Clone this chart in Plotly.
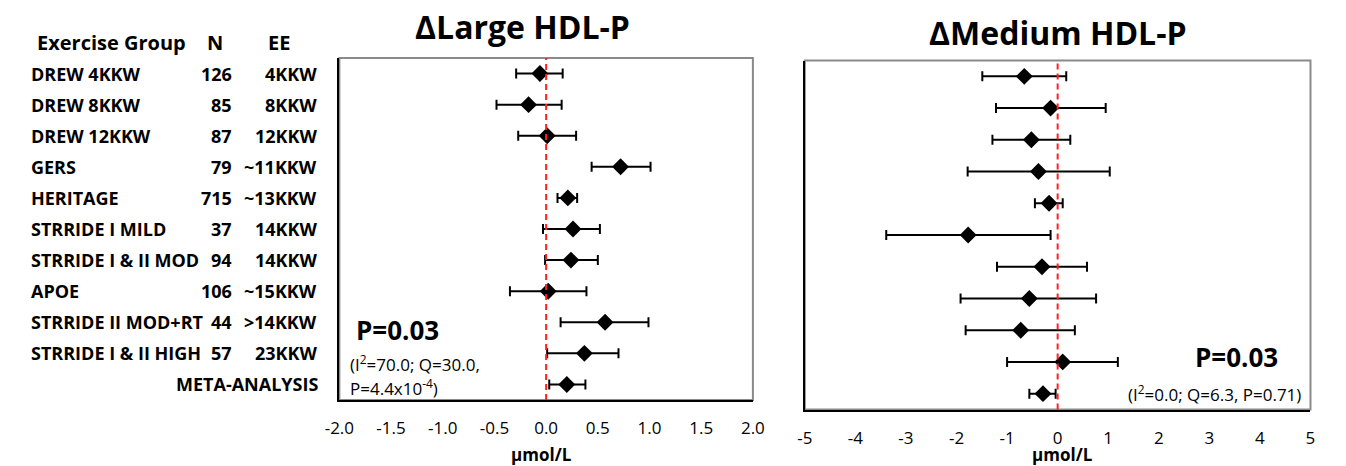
import plotly.graph_objects as go

# ---------------- data ----------------
groups = ["DREW 4KKW", "DREW 8KKW", "DREW 12KKW", "GERS", "HERITAGE",
          "STRRIDE I MILD", "STRRIDE I & II MOD", "APOE", "STRRIDE II MOD+RT",
          "STRRIDE I & II HIGH"]
meta_label = "META-ANALYSIS"
n_vals = [126, 85, 87, 79, 715, 37, 94, 106, 44, 57]
ee_vals = ["4KKW", "8KKW", "12KKW", "~11KKW", "~13KKW", "14KKW", "14KKW",
           "~15KKW", ">14KKW", "23KKW"]

rows = list(range(11))  # 10 studies + meta-analysis

large_mean = [-0.06, -0.17, 0.01, 0.72, 0.21, 0.26, 0.24, 0.02, 0.57, 0.37, 0.20]
large_lo = [-0.29, -0.48, -0.27, 0.44, 0.11, -0.03, -0.01, -0.35, 0.14, 0.01, 0.03]
large_hi = [0.16, 0.15, 0.29, 1.01, 0.30, 0.52, 0.50, 0.39, 0.99, 0.70, 0.38]

medium_mean = [-0.66, -0.14, -0.52, -0.38, -0.17, -1.77, -0.31, -0.56, -0.73, 0.10, -0.29]
medium_lo = [-1.49, -1.22, -1.29, -1.78, -0.45, -3.39, -1.20, -1.92, -1.82, -1.00, -0.56]
medium_hi = [0.17, 0.95, 0.25, 1.03, 0.10, -0.14, 0.58, 0.76, 0.34, 1.19, -0.04]

large_ticks = [-2.0, -1.5, -1.0, -0.5, 0.0, 0.5, 1.0, 1.5, 2.0]
large_ticktext = ["-2.0", "-1.5", "-1.0", "-0.5", "0.0", "0.5", "1.0", "1.5", "2.0"]
medium_ticks = [-5, -4, -3, -2, -1, 0, 1, 2, 3, 4, 5]
medium_ticktext = ["-5", "-4", "-3", "-2", "-1", "0", "1", "2", "3", "4", "5"]

FONT = "Open Sans"
W, H = 1346, 466


def px(x):
    return x / W


def py(y):
    return 1 - y / H


fig = go.Figure()


def add_forest(mean, lo, hi, xa, ya):
    fig.add_trace(go.Scatter(
        x=mean, y=rows, mode="markers", xaxis=xa, yaxis=ya,
        marker=dict(symbol="diamond", size=13, color="black", line=dict(width=0)),
        error_x=dict(type="data", symmetric=False,
                     array=[h - m for h, m in zip(hi, mean)],
                     arrayminus=[m - l for m, l in zip(mean, lo)],
                     color="black", thickness=2, width=5),
        showlegend=False, hoverinfo="skip"))


add_forest(large_mean, large_lo, large_hi, "x", "y")
add_forest(medium_mean, medium_lo, medium_hi, "x2", "y2")

axis_common = dict(showgrid=False, zeroline=False, showline=True, linecolor="black",
                   linewidth=2, ticks="", tickfont=dict(family=FONT, size=17, color="black"))

fig.update_layout(
    width=W, height=H, margin=dict(l=0, r=0, t=0, b=0),
    paper_bgcolor="white", plot_bgcolor="white",
    font=dict(family=FONT, color="black"),
    xaxis=dict(domain=[px(331), px(753)], range=[-2, 2], tickvals=large_ticks,
               ticktext=large_ticktext, anchor="y", ticklabelstandoff=12, **axis_common),
    yaxis=dict(domain=[py(400), py(58)], range=[10.5, -0.5], showticklabels=False,
               anchor="x", showgrid=False, zeroline=False, showline=True,
               linecolor="black", linewidth=2),
    xaxis2=dict(domain=[px(806), px(1322)], range=[-5, 5], tickvals=medium_ticks,
                ticktext=medium_ticktext, anchor="y2", ticklabelstandoff=12, **axis_common),
    yaxis2=dict(domain=[py(409.5), py(60.5)], range=[10.5, -0.5], showticklabels=False,
                anchor="x2", showgrid=False, zeroline=False, showline=True,
                linecolor="black", linewidth=2),
)

# plot-area frames and zero reference lines
for xr, yr in (("x", "y"), ("x2", "y2")):
    fig.add_shape(type="rect", xref=f"{xr} domain", yref=f"{yr} domain",
                  x0=0, x1=1, y0=0, y1=1, line=dict(color="#8a8a8a", width=2),
                  layer="below")
    fig.add_shape(type="line", xref=xr, yref=f"{yr} domain", x0=0, x1=0, y0=0, y1=1,
                  line=dict(color="#ff2020", width=2, dash="6px,4px"))

ann = []


def note(text, x, y, size, xanchor="center", yref="paper", bold=False):
    ann.append(dict(text=f"<b>{text}</b>" if bold else text,
                    x=px(x), y=(py(y) if yref == "paper" else y),
                    xref="paper", yref=yref, xanchor=xanchor, yanchor="middle",
                    showarrow=False, font=dict(family=FONT, size=size, color="black")))


# titles
note("ΔLarge HDL-P", 518, 26, 32, bold=True)
note("ΔMedium HDL-P", 1064, 33, 32, bold=True)
# axis titles
note("µmol/L", 537, 454, 17, bold=True)
note("µmol/L", 1069, 454, 17, bold=True)
# stats text
note("P=0.03", 346, 330, 26, xanchor="left", bold=True)
note("(I<sup>2</sup>=70.0; Q=30.0,", 340, 363, 17, xanchor="left")
note("P=4.4x10<sup>-4</sup>)", 340, 387, 17, xanchor="left")
note("P=0.03", 1291, 357, 26, xanchor="right", bold=True)
note("(I<sup>2</sup>=0.0; Q=6.3, P=0.71)", 1314, 393, 17, xanchor="right")

# table header
note("Exercise Group", 20, 42, 20, xanchor="left", bold=True)
note("N", 204, 42, 20, bold=True)
note("EE", 269, 42, 20, bold=True)

# table rows aligned with the left panel's rows
for r, g, n, e in zip(rows, groups, n_vals, ee_vals):
    note(g, 14, r, 18, xanchor="left", yref="y", bold=True)
    note(str(n), 223, r, 18, xanchor="right", yref="y", bold=True)
    note(e, 310, r, 18, xanchor="right", yref="y", bold=True)
note(meta_label, 311, rows[-1], 18, xanchor="right", yref="y", bold=True)

fig.update_layout(annotations=ann)
fig.write_html("out.html", config={"displayModeBar": False},
               post_script="document.body.style.margin='0px';document.body.style.overflow='hidden';")
